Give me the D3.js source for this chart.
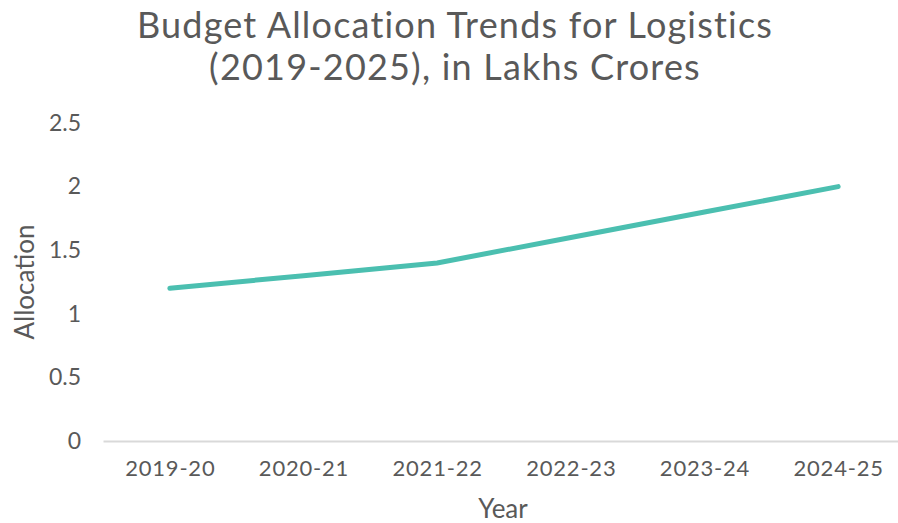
<!DOCTYPE html>
<html><head><meta charset="utf-8">
<script src="https://cdn.jsdelivr.net/npm/d3@7"></script>
<style>body{margin:0;background:#fff}svg{display:block}text{font-family:Lato,"Open Sans",sans-serif;fill:#595959}</style>
</head><body><svg id="c" width="898" height="523"></svg>
<script>
const categories = ["2019-20","2020-21","2021-22","2022-23","2023-24","2024-25"];
const allocation = [1.2, 1.3, 1.4, 1.6, 1.8, 2.0];
const yTicks = [0, 0.5, 1, 1.5, 2, 2.5];
const titleLines = ["Budget Allocation Trends for Logistics", "(2019-2025), in Lakhs Crores"];

const svg = d3.select("#c");
const mLeft = 103, mRight = 905, mTop = 123, mBottom = 441;
const x = d3.scalePoint().domain(categories).range([mLeft, mRight]).padding(0.5);
const y = d3.scaleLinear().domain([0, 2.5]).range([mBottom, mTop]);

svg.append("g").selectAll("text").data(titleLines).join("text")
  .attr("x", 455).attr("y", (d,i)=>38 + i*42).attr("text-anchor","middle")
  .style("font-size","36px").style("letter-spacing","1.2px").text(d=>d);

const ya = svg.append("g").attr("transform",`translate(${mLeft},0)`)
  .call(d3.axisLeft(y).tickValues(yTicks).tickSize(0).tickPadding(22).tickFormat(d3.format("")));
ya.select(".domain").remove();
ya.selectAll("text").style("font-size","23px").attr("fill","#595959").style("font-family","Lato");

const xa = svg.append("g").attr("transform",`translate(0,${mBottom})`)
  .call(d3.axisBottom(x).tickSize(0).tickPadding(19));
xa.select(".domain").attr("stroke","#d9d9d9").attr("stroke-width",2);
xa.selectAll("text").style("font-size","22px").style("letter-spacing","0.8px").attr("fill","#595959").style("font-family","Lato");

svg.append("path").datum(allocation)
  .attr("fill","none").attr("stroke","#4BBFB0").attr("stroke-width",5).attr("stroke-linecap","round")
  .attr("d", d3.line().x((d,i)=>x(categories[i])).y(d=>y(d)));

svg.append("text").attr("x",503).attr("y",518).attr("text-anchor","middle").style("font-size","26px").text("Year");
svg.append("text").attr("transform","translate(34,282) rotate(-90)").attr("text-anchor","middle").style("font-size","26px").text("Allocation");
</script></body></html>
